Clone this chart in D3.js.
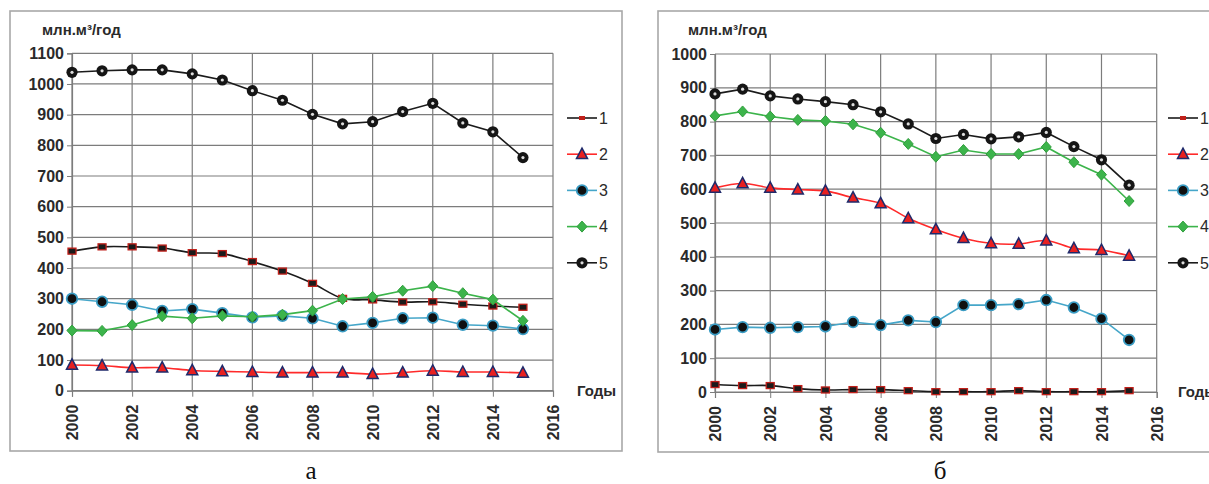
<!DOCTYPE html>
<html><head><meta charset="utf-8">
<script src="https://cdn.jsdelivr.net/npm/d3@7/dist/d3.min.js"></script>
<style>body{margin:0;background:#fff}svg{display:block}</style>
</head><body>
<svg id="c" width="1209" height="484"></svg>
<script>
const years = [2000,2001,2002,2003,2004,2005,2006,2007,2008,2009,2010,2011,2012,2013,2014,2015];
const xTicks = [2000,2002,2004,2006,2008,2010,2012,2014,2016];
const yTicksA = [0,100,200,300,400,500,600,700,800,900,1000,1100];
const yTicksB = [0,100,200,300,400,500,600,700,800,900,1000];
const legendLabels = ["1","2","3","4","5"];
const unitLabel = "млн.м³/год";
const xAxisLabel = "Годы";
const panelLabels = ["а","б"];

// panel а
const a1 = [455,469,469,465,450,447,421,390,350,301,296,289,290,282,276,272];
const a2 = [84,82,75,75,66,63,61,59,59,59,54,59,65,61,61,58];
const a3 = [300,290,280,260,266,253,239,244,236,210,221,236,238,215,212,201];
const a4 = [196,195,214,243,236,244,241,248,261,299,306,326,341,318,297,228];
const a5 = [1038,1043,1046,1046,1033,1013,978,947,901,870,877,910,937,873,844,760];
// panel б
const b1 = [22,19,19,10,6,7,7,4,1,1,1,4,1,1,1,4];
const b2 = [604,617,604,599,595,575,558,514,481,455,440,438,448,425,420,403];
const b3 = [185,192,190,192,194,207,198,212,207,257,257,260,272,250,217,154];
const b4 = [817,830,815,805,802,792,767,734,696,716,704,704,725,680,643,565];
const b5 = [882,896,876,867,859,850,829,793,750,762,749,755,768,726,687,612];

const svg = d3.select("#c");
svg.append("rect").attr("width",1209).attr("height",484).attr("fill","#fff");

const styles = [
  {line:"#1b1b1b", marker:"square", fill:"#1b1b1b", stroke:"#c0201a", curve:d3.curveCatmullRom.alpha(0.5)},
  {line:"#ff2a2a", marker:"triangle", fill:"#e82020", stroke:"#1f2a6b", curve:d3.curveCatmullRom.alpha(0.5)},
  {line:"#45a6c9", marker:"circle", fill:"#101010", stroke:"#3a9cc4", curve:d3.curveLinear},
  {line:"#3cb44b", marker:"diamond", fill:"#3cb44b", stroke:"#2f9e3c", curve:d3.curveLinear},
  {line:"#1b1b1b", marker:"ring", fill:"#151515", stroke:"#151515", curve:d3.curveLinear}
];

const FONT = "Liberation Sans, Arial, sans-serif";

function drawMarker(g, type, x, y, st){
  if(type==="square"){
    g.append("rect").attr("x",x-4).attr("y",y-3).attr("width",8).attr("height",6)
     .attr("fill",st.fill).attr("stroke",st.stroke).attr("stroke-width",1.3);
  } else if(type==="triangle"){
    const s=5.5;
    g.append("path").attr("d",`M${x},${y-s-0.5}L${x+s},${y+s*0.8}L${x-s},${y+s*0.8}Z`)
     .attr("fill",st.fill).attr("stroke",st.stroke).attr("stroke-width",1.5);
  } else if(type==="circle"){
    g.append("circle").attr("cx",x).attr("cy",y).attr("r",5.3)
     .attr("fill",st.fill).attr("stroke",st.stroke).attr("stroke-width",1.8);
  } else if(type==="diamond"){
    const s=5.5;
    g.append("path").attr("d",`M${x},${y-s}L${x+s-0.5},${y}L${x},${y+s}L${x-s+0.5},${y}Z`)
     .attr("fill",st.fill).attr("stroke",st.stroke).attr("stroke-width",1);
  } else if(type==="ring"){
    g.append("circle").attr("cx",x).attr("cy",y).attr("r",5.6).attr("fill",st.fill);
    g.append("circle").attr("cx",x).attr("cy",y).attr("r",1.6).attr("fill","#ddd");
  }
}

function panel(cfg){
  const g = svg.append("g");
  g.append("rect").attr("x",cfg.frame[0]).attr("y",cfg.frame[1])
    .attr("width",cfg.frame[2]-cfg.frame[0]).attr("height",cfg.frame[3]-cfg.frame[1])
    .attr("fill","none").attr("stroke","#a8a8a8").attr("stroke-width",1.6);
  const x = d3.scaleLinear().domain([2000,2016]).range([cfg.px0,cfg.px1]);
  const y = d3.scaleLinear().domain([0,cfg.ymax]).range([cfg.py0,cfg.py1]);
  g.append("g").selectAll("line").data(cfg.yTicks).join("line")
    .attr("x1",cfg.px0).attr("x2",cfg.px1).attr("y1",d=>y(d)).attr("y2",d=>y(d))
    .attr("stroke","#7c7c7c").attr("stroke-width",1.2);
  g.append("g").selectAll("line").data(xTicks).join("line")
    .attr("x1",d=>x(d)).attr("x2",d=>x(d)).attr("y1",cfg.py0).attr("y2",cfg.py1)
    .attr("stroke","#7c7c7c").attr("stroke-width",1.2);
  const ya = d3.axisLeft(y).tickValues(cfg.yTicks).tickFormat(d3.format("d")).tickSize(5).tickPadding(3);
  const yg = g.append("g").attr("transform",`translate(${cfg.px0},0)`).call(ya);
  yg.select(".domain").attr("stroke","#7c7c7c").attr("stroke-width",1.2);
  yg.selectAll(".tick line").attr("stroke","#7c7c7c");
  yg.selectAll("text").attr("font-family",FONT)
    .attr("font-size",16).attr("font-weight","bold").attr("fill","#2a2a2a");
  const xa = d3.axisBottom(x).tickValues(xTicks).tickFormat(d3.format("d")).tickSize(6);
  const xg = g.append("g").attr("transform",`translate(0,${cfg.py0})`).call(xa);
  xg.select(".domain").attr("stroke","#7c7c7c").attr("stroke-width",1.2);
  xg.selectAll(".tick line").attr("stroke","#7c7c7c");
  xg.selectAll("text").attr("font-family",FONT)
    .attr("font-size",16).attr("font-weight","bold").attr("fill","#2a2a2a")
    .attr("transform","rotate(-90)").attr("text-anchor","end")
    .attr("x",-14).attr("y",0).attr("dy","0.35em");
  g.append("text").attr("x",cfg.unitX).attr("y",35).text(unitLabel)
    .attr("font-family",FONT).attr("font-size",15)
    .attr("font-weight","bold").attr("fill","#2a2a2a");
  g.append("text").attr("x",cfg.godyX).attr("y",cfg.py0+5).text(xAxisLabel)
    .attr("font-family",FONT).attr("font-size",15)
    .attr("font-weight","bold").attr("fill","#2a2a2a");
  cfg.series.forEach((vals,i)=>{
    const st = styles[i];
    const line = d3.line().x((d,j)=>x(years[j])).y(d=>y(d)).curve(st.curve);
    g.append("path").attr("d",line(vals)).attr("fill","none")
      .attr("stroke",st.line).attr("stroke-width",1.6);
    const mg = g.append("g");
    vals.forEach((v,j)=>drawMarker(mg, st.marker, x(years[j]), y(v), st));
  });
  legendLabels.forEach((lab,i)=>{
    const st = styles[i];
    const ly = 118 + i*36.2;
    g.append("line").attr("x1",cfg.legX).attr("x2",cfg.legX+30).attr("y1",ly).attr("y2",ly)
      .attr("stroke",st.line).attr("stroke-width",1.6);
    const lg = g.append("g");
    if(st.marker==="square"){
      lg.append("rect").attr("x",cfg.legX+12).attr("y",ly-2).attr("width",6).attr("height",4)
        .attr("fill","#c0201a");
    } else drawMarker(lg, st.marker, cfg.legX+15, ly, st);
    g.append("text").attr("x",cfg.legX+32).attr("y",ly).attr("dy","0.36em").text(lab)
      .attr("font-family",FONT).attr("font-size",16)
      .attr("fill","#2a2a2a");
  });
  g.append("text").attr("x",cfg.labX).attr("y",479).text(cfg.lab)
    .attr("text-anchor","middle").attr("font-family","Liberation Serif, Times New Roman, serif")
    .attr("font-size",25).attr("fill","#111");
}

panel({frame:[10,11,622,451], px0:72, px1:553, py0:390.7, py1:53.3, ymax:1100, yTicks:yTicksA,
  unitX:42, godyX:577, legX:567, labX:311, lab:panelLabels[0], series:[a1,a2,a3,a4,a5]});
panel({frame:[658,11,1215,452], px0:715, px1:1156.7, py0:392, py1:54, ymax:1000, yTicks:yTicksB,
  unitX:688, godyX:1178, legX:1168, labX:940, lab:panelLabels[1], series:[b1,b2,b3,b4,b5]});
</script>
</body></html>
